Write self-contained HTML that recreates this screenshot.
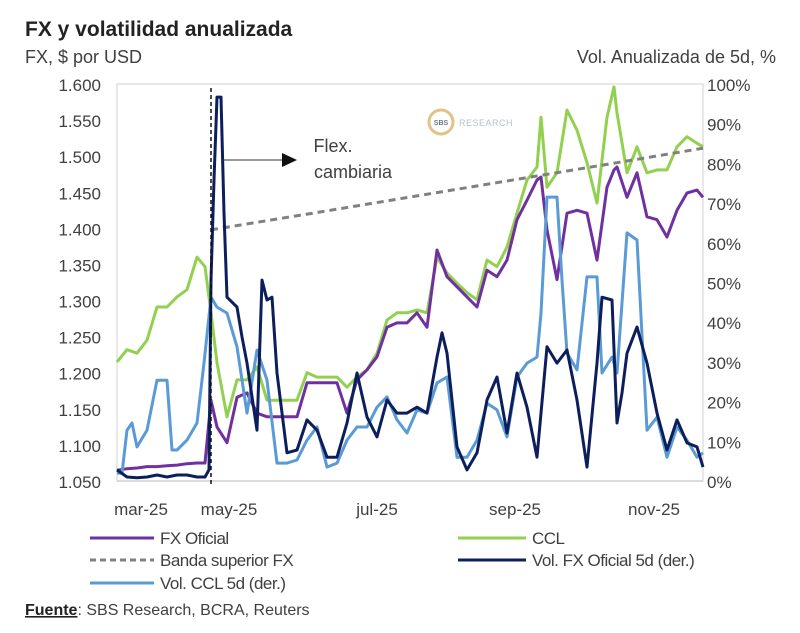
<!DOCTYPE html>
<html><head><meta charset="utf-8">
<style>
html,body{margin:0;padding:0;background:#fff;}
body{width:800px;height:628px;overflow:hidden;font-family:"Liberation Sans",sans-serif;color:#404040;}
svg text{font-family:"Liberation Sans",sans-serif;}
</style></head>
<body>
<svg id="chart" width="800" height="628" xmlns="http://www.w3.org/2000/svg">
<text x="25" y="36" font-size="21" font-weight="bold" fill="#222">FX y volatilidad anualizada</text>
<text x="25" y="63" font-size="18" fill="#404040">FX, $ por USD</text>
<text x="776" y="63" font-size="18" fill="#404040" text-anchor="end">Vol. Anualizada de 5d, %</text>
<rect x="117" y="84" width="586" height="397" fill="none" stroke="#d9d9d9" stroke-width="1.2"/>
<g id="axes"></g>
<g id="logo">
<circle cx="441" cy="122" r="12" fill="#fff" stroke="#d8b56a" stroke-width="3" opacity="0.8"/>
<text x="441" y="125" font-size="7" font-weight="bold" fill="#6b7685" text-anchor="middle">SBS</text>
<text x="459" y="126" font-size="9" fill="#b8c0c8" letter-spacing="0.5">RESEARCH</text>
</g>
<g id="series"></g>
<g>
<line x1="222" y1="160" x2="283" y2="160" stroke="#333" stroke-width="1"/>
<polygon points="282,153 297,160 282,167" fill="#111"/>
<text x="333" y="152" font-size="18" fill="#404040" text-anchor="middle">Flex.</text>
<text x="353" y="178" font-size="18" fill="#404040" text-anchor="middle">cambiaria</text>
</g>
<g id="legend" font-size="17" fill="#404040">
<g><line x1="90" y1="538" x2="154" y2="538" stroke="#7030a0" stroke-width="3"/><text x="160" y="544" letter-spacing="-0.5">FX Oficial</text></g>
<g><line x1="458" y1="538" x2="526" y2="538" stroke="#92d050" stroke-width="3"/><text x="532" y="544" letter-spacing="-0.5">CCL</text></g>
<g><line x1="90" y1="560" x2="154" y2="560" stroke="#808080" stroke-width="3" stroke-dasharray="6,4"/><text x="160" y="566" letter-spacing="-0.5">Banda superior FX</text></g>
<g><line x1="458" y1="560" x2="526" y2="560" stroke="#0c1f5c" stroke-width="3"/><text x="532" y="566" letter-spacing="-0.5">Vol. FX Oficial 5d (der.)</text></g>
<g><line x1="90" y1="583" x2="154" y2="583" stroke="#5b9bd5" stroke-width="3"/><text x="160" y="589" letter-spacing="-0.5">Vol. CCL 5d (der.)</text></g>
</g>
<text x="25" y="615" font-size="16" fill="#404040"><tspan font-weight="bold" text-decoration="underline" fill="#222">Fuente</tspan>: SBS Research, BCRA, Reuters</text>
</svg>
<script>
const leftTicks=[1.05,1.10,1.15,1.20,1.25,1.30,1.35,1.40,1.45,1.50,1.55,1.60];
const leftTickLabels=["1.050","1.100","1.150","1.200","1.250","1.300","1.350","1.400","1.450","1.500","1.550","1.600"];
const rightTicks=[0,10,20,30,40,50,60,70,80,90,100];
const monthDays=[12,56,130,199,268.5];
const monthLabels=["mar-25","may-25","jul-25","sep-25","nov-25"];
const flexDay=47;
const fxDays=[0,5,10,15,20,25,30,35,40,44,47,50,55,60,65,70,75,80,85,90,95,100,105,110,115,120,125,130,135,140,145,150,155,160,165,170,175,180,185,190,195,200,205,210,212,215,220,225,230,235,240,245,248.5,250,255,260,265,270,275,280,285,290,293];
const cclValues=[1.215,1.232,1.227,1.245,1.291,1.291,1.305,1.315,1.360,1.347,1.283,1.214,1.139,1.190,1.190,1.208,1.162,1.162,1.162,1.162,1.200,1.194,1.194,1.194,1.180,1.194,1.204,1.227,1.273,1.283,1.283,1.287,1.283,1.360,1.338,1.324,1.311,1.301,1.356,1.347,1.374,1.421,1.467,1.485,1.554,1.457,1.477,1.564,1.536,1.491,1.435,1.554,1.596,1.560,1.477,1.513,1.477,1.481,1.481,1.513,1.527,1.518,1.513];
const fxOficialValues=[1.065,1.067,1.068,1.070,1.070,1.071,1.072,1.074,1.075,1.075,1.162,1.125,1.103,1.166,1.172,1.144,1.139,1.139,1.139,1.139,1.186,1.186,1.186,1.186,1.144,1.190,1.204,1.222,1.263,1.269,1.269,1.283,1.263,1.370,1.333,1.319,1.305,1.291,1.342,1.333,1.356,1.412,1.439,1.467,1.471,1.398,1.329,1.421,1.425,1.421,1.356,1.457,1.481,1.485,1.443,1.477,1.416,1.412,1.388,1.425,1.449,1.453,1.443];
const bandDays=[47,100,150,200,250,293];
const bandValues=[1.398,1.422,1.445,1.468,1.491,1.511];
const volFxDays=[0,5,10,15,20,25,30,35,40,44,46,47,48.5,50,52,53.5,55,60,62.5,65,70,72.5,75,77.5,80,85,90,95,100,105,110,115,120,125,130,135,140,145,150,155,160,162.5,165,170,175,180,185,190,195,200,205,210,215,220,225,230,235,240,242.5,247.5,250,252.5,255,260,265,270,275,280,285,290,293];
const volFxValues=[2.8,1.0,0.8,1.0,1.5,1.0,1.5,1.5,1.0,1.0,2.8,50.6,75.8,96.7,96.7,67.5,46.3,43.8,36.3,29.7,12.8,50.6,45.6,46.3,27.2,7.1,7.8,15.4,12.8,6.0,6.0,14.6,27.2,16.1,11.1,20.4,17.1,17.1,18.6,17.1,31.2,37.3,32.2,8.6,2.8,7.1,20.4,26.2,12.1,27.2,18.6,6.0,33.8,29.7,33.0,20.4,3.5,29.7,46.3,45.6,14.6,22.2,32.2,38.8,29.7,17.1,7.8,15.4,9.6,8.6,3.5];
const volCclDays=[0,2.5,5,7.5,10,15,20,25,27.5,30,35,40,43.5,47,50,55,60,65,70,75,80,85,90,95,100,105,110,115,120,125,130,135,140,145,150,155,160,165,170,175,180,185,190,195,200,205,210,212,215,220,222.5,225,230,235,240,242.5,247.5,250,255,260,265,270,275,280,285,290,293];
const volCclValues=[2.0,2.0,12.8,14.6,8.6,12.8,25.4,25.4,7.8,7.8,10.3,14.6,29.7,46.3,43.8,42.3,33.8,17.1,33.0,25.4,4.5,4.5,5.3,10.3,13.6,3.5,4.5,10.3,13.6,13.6,18.6,21.2,15.4,12.1,17.9,17.1,24.7,26.2,6.0,6.0,10.3,19.6,17.9,11.1,26.2,29.7,31.2,42.3,71.5,71.5,50.6,32.2,28.0,51.4,51.4,27.2,31.2,27.2,62.5,60.7,12.8,16.1,6.0,13.6,10.3,6.0,7.1];

const X0=117,X1=703,Y0=481,Y1=84,DMAX=293;
function xs(d){return X0+(d/DMAX)*(X1-X0);}
function yl(v){return Y0-(v-1.05)/(0.55)*(Y0-Y1);}
function yr(v){return Y0-(v/100)*(Y0-Y1);}
const NS="http://www.w3.org/2000/svg";
const axes=document.getElementById('axes');
const series=document.getElementById('series');
function mk(tag,attrs,parent){const e=document.createElementNS(NS,tag);for(const k in attrs)e.setAttribute(k,attrs[k]);parent.appendChild(e);return e;}

leftTicks.forEach((v,i)=>{
  const t=mk('text',{x:101,y:yl(v)+7,'font-size':17,fill:'#404040','text-anchor':'end'},axes);
  t.textContent=leftTickLabels[i];
  
  
});
rightTicks.forEach(v=>{
  const t=mk('text',{x:707,y:yr(v)+7,'font-size':17,fill:'#404040'},axes);
  t.textContent=v+'%';
  
  
});
monthDays.forEach((d,i)=>{
  const t=mk('text',{x:xs(d),y:515,'font-size':17,fill:'#404040','text-anchor':'middle'},axes);
  t.textContent=monthLabels[i];
  
  
});
const ax=mk('line',{x1:X0,y1:Y0,x2:X1,y2:Y0,stroke:'#bfbfbf','stroke-width':1},axes);



function path(days,vals,yf,color,name,dash){
  const d=days.map((dd,i)=>(i?'L':'M')+xs(dd).toFixed(1)+','+yf(vals[i]).toFixed(1)).join(' ');
  const p=mk('path',{d:d,fill:'none',stroke:color,'stroke-width':3,'stroke-linejoin':'round'},series);
  if(dash)p.setAttribute('stroke-dasharray',dash);
  
  
}
path(fxDays,cclValues,yl,'#92d050','ccl-line');
path(fxDays,fxOficialValues,yl,'#7030a0','fx-oficial-line');
path(bandDays,bandValues,yl,'#808080','banda-superior-line','7,5');
path(volCclDays,volCclValues,yr,'#5b9bd5','vol-ccl-line');
path(volFxDays,volFxValues,yr,'#0c1f5c','vol-fx-oficial-line');
const fl=mk('line',{x1:xs(flexDay),y1:88,x2:xs(flexDay),y2:Y0+4,stroke:'#111','stroke-width':1.5,'stroke-dasharray':'4,3'},series);


</script>
</body></html>
